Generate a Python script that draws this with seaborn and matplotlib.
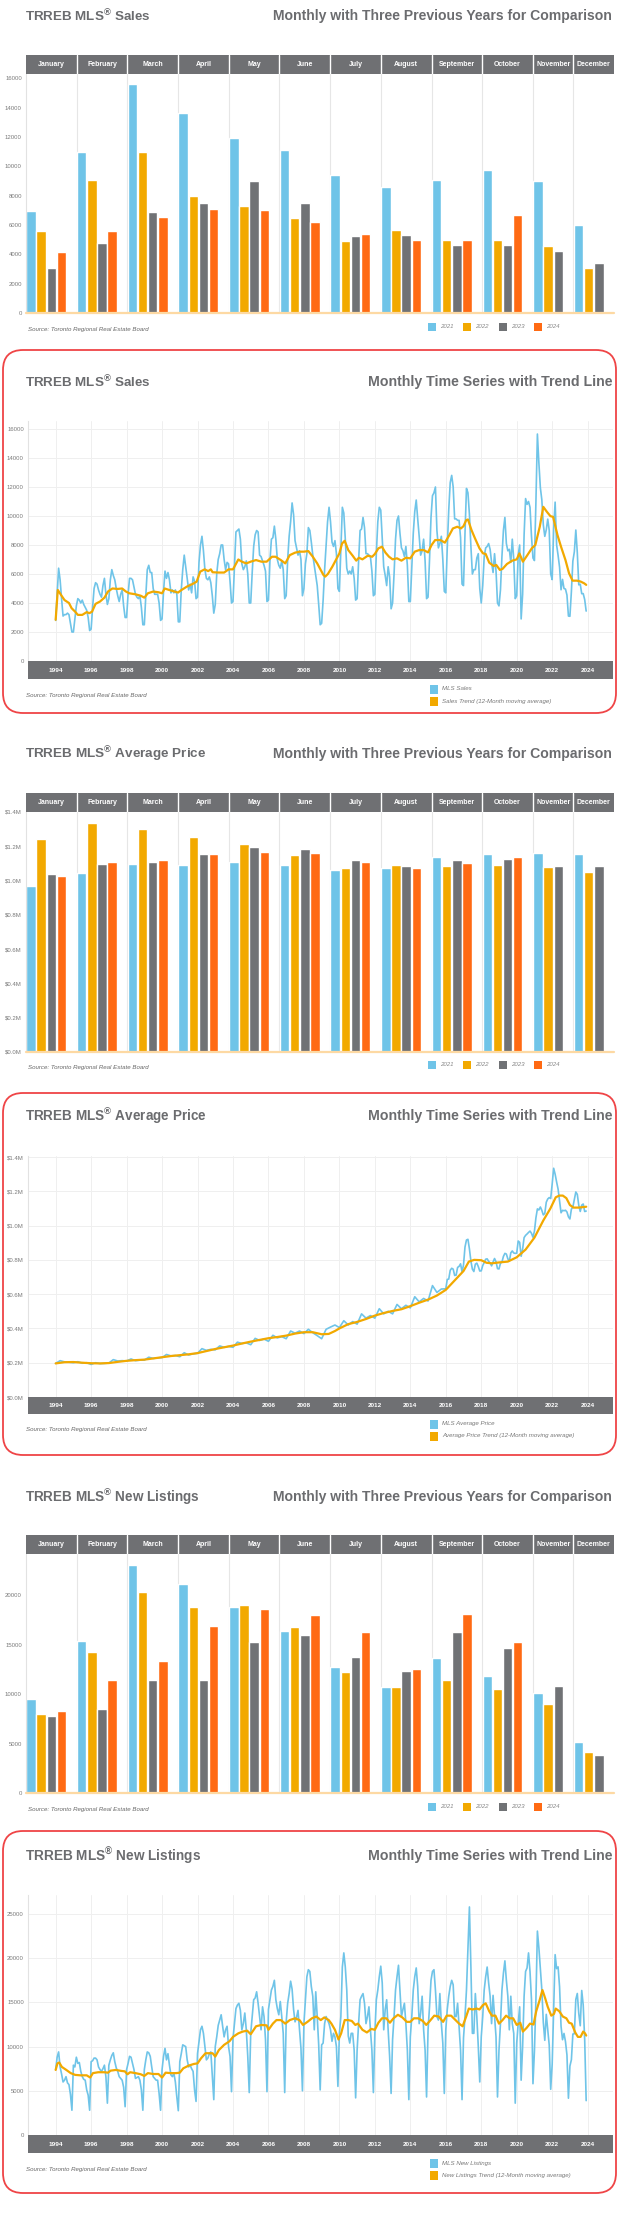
import numpy as np
import pandas as pd
import matplotlib
matplotlib.use("Agg")
import matplotlib.pyplot as plt
import seaborn as sns
from matplotlib.patches import FancyBboxPatch, Rectangle

sns.set_theme(style="white")
plt.rcParams["font.family"] = ["Liberation Sans", "DejaVu Sans"]

# ---------------------------------------------------------------- data
months = ["January", "February", "March", "April", "May", "June", "July",
          "August", "September", "October", "November", "December"]
years_cmp = ["2021", "2022", "2023", "2024"]

sales_2021 = [6928, 10970, 15652, 13663, 11951, 11112, 9390, 8596, 9046, 9783, 9011, 6003]
sales_2022 = [5614, 9097, 10955, 8008, 7283, 6474, 4912, 5627, 4998, 4961, 4544, 3100]
sales_2023 = [3083, 4783, 6896, 7531, 9031, 7481, 5250, 5294, 4642, 4646, 4236, 3444]
sales_2024 = [4191, 5607, 6560, 7114, 7013, 6213, 5391, 4975, 4996, 6658]

price_2021 = [967885, 1045488, 1097565, 1090992, 1108453, 1088991, 1062256, 1070911, 1136280, 1155345, 1163323, 1157837]
price_2022 = [1242793, 1334544, 1299894, 1254436, 1212806, 1146254, 1074754, 1089000, 1086762, 1089428, 1079395, 1051216]
price_2023 = [1038668, 1095617, 1108606, 1153269, 1196101, 1182120, 1118374, 1082496, 1119428, 1125928, 1082179, 1084692]
price_2024 = [1026703, 1108720, 1121615, 1156167, 1165691, 1162167, 1106617, 1074425, 1104704, 1135215]

listings_2021 = [9517, 15342, 23067, 21182, 18851, 16448, 12740, 10711, 13651, 11889, 10171, 5170]
listings_2022 = [8000, 14320, 20400, 18820, 19020, 16760, 12300, 10780, 11490, 10570, 9050, 4160]
listings_2023 = [7800, 8510, 11420, 11450, 15340, 16010, 13750, 12360, 16350, 14700, 10810, 3890]
listings_2024 = [8340, 11420, 13380, 16960, 18610, 18000, 16320, 12570, 18140, 15340]

# monthly MLS sales Jan 1994 - Dec 2020 (2021-2023 from the arrays above)
sales_monthly_1994_2020 = [
    2800, 4600, 6400, 5600, 4300, 3100, 3200, 3200, 3300, 3200, 2600, 2000,
    2000, 2900, 3800, 4300, 4200, 4000, 4200, 3900, 3700, 3500, 3000, 2100,
    2200, 3700, 5000, 5400, 5300, 4900, 4600, 4400, 5200, 5700, 4600, 3900,
    4300, 5600, 6300, 5900, 5600, 5000, 4500, 4100, 4600, 4900, 3800, 3000,
    3000, 4600, 5700, 5700, 5600, 5100, 4600, 4400, 4300, 4500, 3700, 2500,
    2500, 4500, 6300, 6600, 6100, 6100, 5000, 4600, 4600, 4600, 4000, 2800,
    2900, 4800, 6200, 5700, 6100, 5600, 4700, 4900, 4700, 4900, 4600, 2700,
    2700, 4900, 6300, 7300, 6500, 5700, 4900, 5300, 4700, 5800, 5500, 4300,
    4400, 6800, 8000, 8600, 7600, 6300, 5700, 5600, 5800, 5400, 4500, 3300,
    3900, 6000, 7000, 7400, 8000, 8000, 7000, 6300, 6800, 6700, 5500, 4000,
    4100, 6500, 8900, 9000, 9100, 8400, 6700, 6300, 6500, 6900, 6000, 4000,
    4000, 6100, 7900, 8700, 9000, 8900, 7300, 7200, 6900, 6600, 6200, 4100,
    4200, 6900, 8400, 8500, 9300, 8400, 7000, 6600, 6400, 6900, 6300, 4300,
    4500, 7000, 8600, 9600, 10900, 10100, 8300, 7800, 7300, 7600, 7000, 4500,
    5000, 6700, 7400, 9200, 9000, 8200, 7300, 6600, 5900, 5200, 3900, 2500,
    2600, 4200, 6300, 8000, 9600, 10600, 9600, 8200, 7900, 8300, 7400, 5000,
    4800, 7800, 10600, 10200, 8400, 6400, 6000, 6200, 6000, 6500, 5700, 4200,
    4300, 6900, 9000, 9100, 9900, 9200, 7400, 7400, 7300, 7200, 6200, 4500,
    4600, 7400, 9600, 10600, 10400, 8400, 6500, 5900, 5200, 6500, 5800, 3600,
    4000, 6000, 8400, 9700, 10000, 8800, 7800, 7600, 7200, 7900, 6600, 4100,
    4100, 6500, 8800, 10300, 11100, 9800, 8600, 7300, 7600, 8400, 6900, 4300,
    4400, 7000, 9900, 11400, 11600, 12000, 9000, 7800, 8100, 8600, 7000, 4800,
    4700, 7800, 10400, 12300, 12800, 12000, 9800, 9800, 9700, 9700, 8500, 5300,
    5200, 8800, 11900, 11600, 10100, 7900, 6000, 6300, 6300, 7100, 7400, 5000,
    4000, 5200, 7200, 7800, 7900, 8100, 7700, 6800, 6100, 7400, 6200, 4000,
    3800, 4900, 7200, 9000, 9900, 8100, 7600, 7700, 6800, 8400, 7000, 4300,
    4500, 7300, 8000, 2900, 4600, 8700, 11200, 10800, 11000, 10600, 8600, 7100,
]

sales_trend = [
    (1994.0, 2840), (1994.12, 4900), (1994.3, 4560), (1994.5, 4200), (1994.75, 4000), (1994.9, 3640),
    (1995.1, 3400), (1995.25, 3180), (1995.5, 3180), (1995.75, 3370), (1995.9, 3300), (1996.05, 3400),
    (1996.25, 3940), (1996.5, 4100), (1996.75, 4370), (1996.95, 4790), (1997.2, 5000), (1997.5, 4970),
    (1997.75, 5000), (1997.95, 4800), (1998.15, 4670), (1998.5, 4600), (1998.8, 4500), (1999.0, 4370),
    (1999.2, 4670), (1999.5, 4790), (1999.8, 4740), (2000.0, 4670), (2000.15, 5000), (2000.4, 4900),
    (2000.7, 4790), (2000.9, 4720), (2001.1, 4900), (2001.4, 5130), (2001.7, 5300), (2001.95, 5470),
    (2002.15, 6160), (2002.4, 6320), (2002.6, 6200), (2002.75, 6320), (2002.85, 6120), (2003.2, 6100),
    (2003.5, 6100), (2003.75, 6320), (2004.0, 6320), (2004.3, 7000), (2004.5, 6850), (2004.75, 6730),
    (2005.0, 6850), (2005.3, 6960), (2005.6, 6850), (2005.9, 6850), (2006.2, 7190), (2006.4, 7190),
    (2006.7, 6960), (2006.95, 6730), (2007.2, 7300), (2007.5, 7470), (2007.75, 7540), (2008.0, 7540),
    (2008.25, 7580), (2008.5, 7190), (2008.75, 6730), (2009.1, 5930), (2009.2, 5820), (2009.35, 6000),
    (2009.6, 6500), (2009.85, 7080), (2010.0, 7420), (2010.15, 8100), (2010.3, 8290), (2010.5, 7650),
    (2010.75, 7260), (2010.95, 6920), (2011.1, 7120), (2011.3, 7010), (2011.6, 7260), (2011.85, 7190),
    (2012.0, 7380), (2012.2, 7770), (2012.4, 7880), (2012.6, 7470), (2012.8, 7190), (2013.0, 7010),
    (2013.25, 7080), (2013.5, 6920), (2013.75, 7120), (2014.0, 7080), (2014.25, 7540), (2014.5, 7650),
    (2014.75, 7650), (2015.0, 7490), (2015.2, 8000), (2015.4, 8340), (2015.7, 8340), (2015.95, 8160),
    (2016.2, 8680), (2016.4, 9140), (2016.65, 9260), (2016.85, 9140), (2017.0, 9300), (2017.15, 9710),
    (2017.25, 9760), (2017.45, 9030), (2017.65, 8450), (2017.9, 7770), (2018.1, 7420), (2018.25, 7380),
    (2018.45, 6780), (2018.7, 6550), (2018.85, 6620), (2019.05, 6280), (2019.2, 6350), (2019.45, 6690),
    (2019.75, 6920), (2020.0, 7010), (2020.15, 7420), (2020.35, 6850), (2020.6, 7300), (2020.85, 7770),
    (2021.05, 8000), (2021.3, 9260), (2021.5, 10630), (2021.7, 10290), (2021.9, 9990), (2022.05, 9940),
    (2022.3, 8680), (2022.5, 7880), (2022.75, 6960), (2022.95, 6050), (2023.15, 5540), (2023.4, 5540),
    (2023.6, 5480), (2023.8, 5360), (2023.92, 5250),
]

# average price: quarterly (Jan, Apr, Jul, Oct) 1994-2015
price_quarterly_1994_2015 = [
    196000, 212000, 205000, 203000,
    200000, 206000, 197000, 200000,
    190000, 200000, 195000, 196000,
    198000, 218000, 210000, 212000,
    210000, 222000, 212000, 215000,
    215000, 232000, 225000, 228000,
    230000, 248000, 240000, 242000,
    235000, 258000, 245000, 252000,
    255000, 282000, 272000, 278000,
    275000, 298000, 290000, 295000,
    290000, 320000, 312000, 316000,
    305000, 342000, 330000, 338000,
    325000, 360000, 345000, 352000,
    340000, 385000, 372000, 385000,
    370000, 395000, 375000, 358000,
    340000, 395000, 408000, 420000,
    405000, 445000, 420000, 440000,
    425000, 485000, 460000, 475000,
    460000, 515000, 485000, 500000,
    485000, 540000, 515000, 535000,
    520000, 585000, 555000, 575000,
    560000, 650000, 610000, 630000,
]
# average price: monthly 2016-2020
price_monthly_2016_2020 = [
    631000, 686000, 688000, 739000, 751000, 746000, 709000, 711000, 756000, 762000, 777000, 730000,
    771000, 875000, 916000, 920000, 864000, 793000, 746000, 732000, 775000, 781000, 761000, 735000,
    736000, 767000, 784000, 804000, 806000, 792000, 782000, 765000, 788000, 808000, 789000, 749000,
    747000, 780000, 787000, 820000, 838000, 834000, 806000, 792000, 841000, 852000, 840000, 838000,
    839000, 910000, 902000, 821000, 863000, 930000, 943000, 951000, 960000, 968000, 955000, 932000,
]

price_trend = [
    (1994.0, 196000), (1994.5, 203000), (1995.0, 204000), (1995.5, 200000), (1996.0, 197000),
    (1996.5, 196000), (1997.0, 198000), (1997.5, 205000), (1998.0, 211000), (1998.5, 215000),
    (1999.0, 218000), (1999.5, 225000), (2000.0, 232000), (2000.5, 239000), (2001.0, 244000),
    (2001.5, 249000), (2002.0, 256000), (2002.5, 268000), (2003.0, 280000), (2003.5, 290000),
    (2004.0, 300000), (2004.5, 312000), (2005.0, 323000), (2005.5, 333000), (2006.0, 343000),
    (2006.5, 350000), (2007.0, 358000), (2007.5, 370000), (2008.0, 378000), (2008.5, 378000),
    (2009.0, 366000), (2009.4, 368000), (2009.75, 385000), (2010.0, 400000), (2010.5, 425000),
    (2011.0, 438000), (2011.5, 455000), (2012.0, 475000), (2012.5, 490000), (2013.0, 502000),
    (2013.5, 512000), (2014.0, 530000), (2014.5, 550000), (2015.0, 568000), (2015.5, 592000),
    (2016.0, 625000), (2016.5, 680000), (2017.0, 735000), (2017.3, 790000), (2017.6, 800000),
    (2018.0, 798000), (2018.3, 783000), (2018.6, 780000), (2019.0, 785000), (2019.5, 790000),
    (2020.0, 815000), (2020.5, 860000), (2021.0, 930000), (2021.5, 1030000), (2021.9, 1100000),
    (2022.2, 1165000), (2022.4, 1175000), (2022.6, 1175000), (2022.8, 1160000), (2023.0, 1120000),
    (2023.2, 1105000), (2023.5, 1105000), (2023.92, 1110000),
]

listings_monthly_1994_2020 = [
    7400, 8800, 9400, 7700, 6900, 6000, 6200, 6600, 5900, 5700, 4600, 2800,
    7900, 7700, 8800, 8100, 8200, 7200, 6600, 6300, 6200, 5100, 4500, 2800,
    8300, 8400, 8700, 8700, 8500, 7700, 7400, 7200, 7500, 7900, 6600, 3600,
    7900, 8500, 9000, 9300, 8300, 7600, 7200, 6600, 6400, 6200, 5400, 3200,
    7400, 8100, 8900, 8800, 8100, 7400, 6400, 6500, 6600, 6200, 5100, 2800,
    7400, 8500, 9400, 9300, 8900, 7700, 6600, 6400, 6200, 6200, 4700, 2800,
    7400, 8900, 9800, 8500, 9200, 7900, 6800, 6600, 7000, 6000, 4300, 2750,
    8300, 9200, 10200, 10100, 10000, 8500, 7700, 7900, 7500, 7200, 5100, 3800,
    9200, 10600, 11900, 12300, 11500, 10000, 8500, 8700, 9200, 9400, 6600, 4000,
    10000, 11100, 12400, 13000, 13600, 12300, 11100, 11900, 12300, 10000, 8900, 4900,
    10900, 12600, 14300, 14700, 14900, 14100, 11900, 12600, 13800, 11900, 8900, 4800,
    11500, 13400, 15300, 15500, 16200, 14900, 13400, 11900, 14500, 13400, 10800, 4900,
    14200, 15300, 16400, 16800, 17500, 15300, 14300, 13600, 15100, 13400, 11500, 4800,
    12800, 14900, 16000, 17400, 16500, 14200, 12800, 13300, 14100, 12000, 9800, 5000,
    12600, 15300, 17900, 18700, 18500, 16800, 15700, 11900, 16200, 13400, 10200, 5100,
    10200, 10400, 12600, 13400, 13000, 12600, 11900, 10600, 11500, 11100, 10000, 5500,
    11500, 13400, 19000, 20600, 19000, 16400, 11200, 10400, 11500, 11500, 9600, 4200,
    9600, 12600, 15300, 15700, 16000, 14900, 12600, 13400, 14500, 11900, 9600, 4800,
    11500, 15300, 16400, 17900, 19100, 17200, 11900, 14200, 15300, 11900, 8900, 4700,
    10800, 13400, 16400, 17900, 19200, 16400, 13400, 14200, 14900, 12600, 9600, 4000,
    11100, 13400, 16400, 17900, 18900, 16800, 12600, 13800, 15700, 11900, 9600, 4300,
    11900, 14500, 17500, 18500, 18700, 16400, 13400, 13000, 16000, 12600, 10400, 4700,
    11900, 14200, 15700, 16800, 17500, 17000, 13400, 13400, 14900, 12300, 9600, 4000,
    11000, 13400, 16400, 21000, 25800, 19000, 11500, 11500, 16000, 13400, 10000, 6000,
    11100, 13400, 16400, 17900, 19000, 17200, 15700, 12600, 15800, 13400, 11100, 4300,
    9600, 12600, 16400, 18300, 19700, 17500, 15700, 11900, 15700, 12600, 11500, 3600,
    10400, 12600, 14500, 6200, 10000, 15700, 18500, 18900, 20600, 18500, 15300, 5800,
]

listings_trend = [
    (1994.0, 7360), (1994.1, 8100), (1994.2, 8200), (1994.35, 7700), (1994.6, 7360), (1994.85, 7000),
    (1995.1, 6800), (1995.4, 6750), (1995.75, 6750), (1995.95, 6500), (1996.1, 7000), (1996.4, 7100),
    (1996.75, 7100), (1996.95, 7050), (1997.1, 7280), (1997.4, 7360), (1997.7, 7250), (1997.9, 7200),
    (1998.05, 6870), (1998.2, 7100), (1998.5, 7000), (1998.8, 6870), (1999.0, 6680), (1999.2, 7000),
    (1999.5, 6900), (1999.8, 6900), (2000.0, 6500), (2000.2, 7050), (2000.5, 7000), (2000.8, 7000),
    (2001.0, 7050), (2001.2, 7550), (2001.5, 7850), (2001.8, 8040), (2002.0, 8100), (2002.2, 8680),
    (2002.45, 9250), (2002.65, 9250), (2002.85, 9250), (2003.0, 8870), (2003.2, 9600), (2003.5, 10200),
    (2003.8, 10600), (2004.0, 11100), (2004.3, 11500), (2004.55, 11700), (2004.8, 11800), (2005.0, 11400),
    (2005.3, 12300), (2005.6, 12450), (2005.9, 12400), (2006.0, 11900), (2006.25, 12600), (2006.45, 13000),
    (2006.7, 13000), (2006.95, 12600), (2007.2, 13000), (2007.5, 13200), (2007.75, 13000), (2007.95, 12450),
    (2008.2, 12800), (2008.45, 13200), (2008.7, 13400), (2008.95, 13000), (2009.15, 13300), (2009.4, 13000),
    (2009.55, 12600), (2009.75, 11900), (2009.95, 10800), (2010.1, 11500), (2010.3, 13000), (2010.5, 13000),
    (2010.7, 12900), (2010.9, 12450), (2011.05, 12600), (2011.3, 11900), (2011.55, 11600), (2011.8, 12000),
    (2012.0, 11900), (2012.2, 12700), (2012.4, 13200), (2012.65, 13200), (2012.85, 12700), (2013.05, 13200),
    (2013.3, 13600), (2013.55, 13300), (2013.8, 12800), (2014.0, 12800), (2014.2, 13200), (2014.45, 13200),
    (2014.7, 12900), (2014.9, 12450), (2015.1, 12900), (2015.35, 13500), (2015.6, 13400), (2015.85, 12800),
    (2016.05, 13500), (2016.3, 13500), (2016.5, 13100), (2016.75, 12600), (2016.95, 12300), (2017.15, 13400),
    (2017.3, 14300), (2017.5, 14200), (2017.75, 14300), (2017.9, 14200), (2018.1, 14700), (2018.25, 14900),
    (2018.45, 14000), (2018.6, 13500), (2018.8, 13500), (2019.0, 12600), (2019.2, 13000), (2019.4, 13500),
    (2019.6, 13200), (2019.8, 13200), (2020.0, 12450), (2020.2, 12700), (2020.35, 11700), (2020.55, 12100),
    (2020.75, 12600), (2020.95, 12500), (2021.1, 14000), (2021.3, 15300), (2021.45, 16400), (2021.6, 15500),
    (2021.75, 14500), (2021.95, 13500), (2022.1, 13700), (2022.2, 14300), (2022.4, 14000), (2022.6, 13400),
    (2022.8, 13200), (2022.95, 12700), (2023.1, 12600), (2023.3, 11600), (2023.45, 11100), (2023.6, 11100),
    (2023.75, 11700), (2023.85, 11500), (2023.92, 11250),
]

sales_ticks = [0, 2000, 4000, 6000, 8000, 10000, 12000, 14000, 16000]
price_ticks = [0, 200000, 400000, 600000, 800000, 1000000, 1200000, 1400000]
price_tick_labels = ["$0.0M", "$0.2M", "$0.4M", "$0.6M", "$0.8M", "$1.0M", "$1.2M", "$1.4M"]
listings_bar_ticks = [0, 5000, 10000, 15000, 20000]
listings_ts_ticks = [0, 5000, 10000, 15000, 20000, 25000]
year_labels = list(range(1994, 2025, 2))

# ---------------------------------------------------------------- style
W, H, DPI = 621, 2219, 100
BLUE = "#6fc4e8"
GOLD = "#f2a900"
GRAY = "#707275"
ORANGE = "#ff6a13"
BAND = "#6f7073"
TITLE_C = "#6b6c6f"
TXT = "#7a7a7a"
RED = "#ef4446"
pal = {"2021": BLUE, "2022": GOLD, "2023": GRAY, "2024": ORANGE}

fig = plt.figure(figsize=(W / DPI, H / DPI), dpi=DPI)
fig.patch.set_facecolor("white")
renderer = fig.canvas.get_renderer()


def axes_px(x0, y0, x1, y1):
    return fig.add_axes([x0 / W, 1 - y1 / H, (x1 - x0) / W, (y1 - y0) / H])


def ftext(x, y, s, **kw):
    return fig.text(x / DPI, (H - y) / DPI, s, transform=fig.dpi_scale_trans, **kw)


def fit(t, width):
    bb = t.get_window_extent(renderer=renderer)
    t.set_fontsize(t.get_fontsize() * width / bb.width)


def rect_px(x, y, w, h, color):
    fig.add_artist(Rectangle((x / DPI, (H - y - h) / DPI), w / DPI, h / DPI,
                             transform=fig.dpi_scale_trans, color=color, lw=0))


def titles(y, left, right, lx1, rx0):
    t1 = ftext(25, y, left, ha="left", va="center", fontsize=10, fontweight="bold", color=TITLE_C)
    fit(t1, lx1 - 25)
    t2 = ftext(612, y, right, ha="right", va="center", fontsize=10, fontweight="bold", color=TITLE_C)
    fit(t2, 612 - rx0)


def source(x, y):
    ftext(x, y, "Source: Toronto Regional Real Estate Board", ha="left", va="center",
          fontsize=4.4, style="italic", color="#666666")


def style_yaxis(ax, ticks, labels):
    ax.set_yticks(ticks)
    ax.set_yticklabels(labels)
    ax.tick_params(axis="y", length=0, pad=3, labelsize=4.3, labelcolor=TXT)
    ax.set_xlabel("")
    ax.set_ylabel("")
    for k, s in ax.spines.items():
        s.set_visible(k == "left")
    ax.spines["left"].set_color("#e2e2e2")
    ax.spines["left"].set_linewidth(0.8)


def bar_panel(y_title, y_hdr0, y_hdr1, y_base, y_src, series, ytop, ticks, labels, title, lx1):
    titles(y_title, title, "Monthly with Three Previous Years for Comparison", lx1, 271)
    rows, bounds, centers = [], [0], []
    slot = 0
    for mi in range(12):
        start = slot
        for yr in years_cmp:
            vals = series[yr]
            if mi < len(vals):
                rows.append({"pos": slot + 0.5, "value": vals[mi], "year": yr})
                slot += 1
        slot += 1
        bounds.append(slot)
        centers.append((start + slot) / 2)
    total = slot
    df = pd.DataFrame(rows)
    ax = axes_px(26, y_hdr1, 614, y_base)
    sns.barplot(data=df, x="pos", y="value", hue="year", hue_order=years_cmp, palette=pal,
                native_scale=True, dodge=False, width=0.93, saturation=1, errorbar=None,
                legend=False, ax=ax, zorder=2)
    ax.set_xlim(0, total)
    ax.set_ylim(0, ytop)
    for b in bounds[1:-1]:
        ax.axvline(b, color="#e6e6e6", lw=0.8, zorder=0)
    ax.axhline(0, color="#fdd9a3", lw=1.6, zorder=3, clip_on=False)
    ax.set_xticks([])
    style_yaxis(ax, ticks, labels)

    hb = axes_px(26, y_hdr0, 614, y_hdr1)
    hb.set_facecolor(BAND)
    hb.set_xlim(0, total)
    hb.set_ylim(0, 1)
    hb.set_xticks([])
    hb.set_yticks([])
    for s in hb.spines.values():
        s.set_visible(False)
    for b in bounds[1:-1]:
        hb.axvline(b, color="white", lw=1.0)
    for c, m in zip(centers, months):
        hb.text(c, 0.5, m, ha="center", va="center", color="white", fontsize=5, fontweight="bold")

    source(28, y_src)
    for i, yr in enumerate(years_cmp):
        x = 428 + i * 35.3
        rect_px(x, y_src - 6, 8, 8, pal[yr])
        ftext(x + 12, y_src - 2, yr, ha="left", va="center", fontsize=4.4, style="italic", color="#888888")


XL0, XL1 = 1992.44, 2025.43


def ts_panel(box_top, box_bot, y_title, plot_top, y_zero, band_bot, leg_y1, leg_y2, src_y,
             title, t, v, trend, ytop, ticks, labels, lab1, lab2, lx1):
    fig.add_artist(FancyBboxPatch((3 / DPI, (H - box_bot) / DPI), (616 - 3) / DPI,
                                  (box_bot - box_top) / DPI,
                                  boxstyle="round,pad=0,rounding_size=0.2",
                                  transform=fig.dpi_scale_trans, fill=False, ec=RED, lw=1.3))
    titles(y_title, title, "Monthly Time Series with Trend Line", lx1, 368)
    ax = axes_px(28, plot_top, 613, y_zero)
    tt = np.array([p[0] for p in trend])
    tv = np.array([p[1] for p in trend])
    sns.lineplot(x=t, y=v, ax=ax, color=BLUE, linewidth=1.2, estimator=None, sort=False)
    sns.lineplot(x=tt, y=tv, ax=ax, color=GOLD, linewidth=1.6, estimator=None, sort=False)
    ax.set_xlim(XL0, XL1)
    ax.set_ylim(0, ytop)
    ax.set_xticks(year_labels)
    ax.set_xticklabels([])
    ax.set_xticks(np.arange(1993, 2026), minor=True)
    ax.tick_params(axis="x", which="both", length=2, color="#666666", direction="out")
    ax.grid(True, which="major", color="#efefef", lw=0.7)
    ax.set_axisbelow(True)
    style_yaxis(ax, ticks, labels)

    band = axes_px(28, y_zero, 613, band_bot)
    band.set_facecolor(BAND)
    band.set_xlim(XL0, XL1)
    band.set_ylim(0, 1)
    band.set_xticks([])
    band.set_yticks([])
    for s in band.spines.values():
        s.set_visible(False)
    for yr in year_labels:
        band.text(yr, 0.5, str(yr), ha="center", va="center", color="white",
                  fontsize=4.6, fontweight="bold")

    source(26, src_y)
    rect_px(430, leg_y1 - 4.5, 8, 9, BLUE)
    rect_px(430, leg_y2 - 4.5, 8, 9, GOLD)
    ftext(442, leg_y1, lab1, ha="left", va="center", fontsize=4.4, style="italic", color="#777777")
    ftext(442, leg_y2, lab2, ha="left", va="center", fontsize=4.4, style="italic", color="#777777")


REG = r"$^{\mathregular{®}}$"

# ---------------------------------------------------------------- Sales
bar_panel(16, 55, 74, 313, 329,
          {"2021": sales_2021, "2022": sales_2022, "2023": sales_2023, "2024": sales_2024},
          16300, sales_ticks, [str(x) for x in sales_ticks], "TRREB MLS" + REG + " Sales", 151)

months_t = 1994 + np.arange(360) / 12
sales_all = np.array(sales_monthly_1994_2020 + sales_2021 + sales_2022 + sales_2023)
ts_panel(350, 713, 382, 421, 661, 679, 689, 701, 695, "TRREB MLS" + REG + " Sales",
         months_t, sales_all, sales_trend, 16550, sales_ticks, [str(x) for x in sales_ticks],
         "MLS Sales", "Sales Trend (12-Month moving average)", 150)

# ---------------------------------------------------------------- Average price
bar_panel(754, 793, 812, 1052, 1067,
          {"2021": price_2021, "2022": price_2022, "2023": price_2023, "2024": price_2024},
          1400000, price_ticks, price_tick_labels, "TRREB MLS" + REG + " Average Price", 206)

pq = np.array(price_quarterly_1994_2015)
pq_t = np.array([y + m / 12 for y in range(1994, 2016) for m in (0, 3, 6, 9)])
pm = np.array(price_monthly_2016_2020 + price_2021 + price_2022 + price_2023)
pm_t = 2016 + np.arange(len(pm)) / 12
ts_panel(1093, 1455, 1116, 1156, 1397, 1414, 1424, 1436, 1430, "TRREB MLS" + REG + " Average Price",
         np.concatenate([pq_t, pm_t]), np.concatenate([pq, pm]), price_trend, 1406000,
         price_ticks, price_tick_labels, "MLS Average Price",
         "Average Price Trend (12-Month moving average)", 207)

# ---------------------------------------------------------------- New listings
bar_panel(1497, 1535, 1554, 1793, 1809,
          {"2021": listings_2021, "2022": listings_2022, "2023": listings_2023, "2024": listings_2024},
          24200, listings_bar_ticks, [str(x) for x in listings_bar_ticks],
          "TRREB MLS" + REG + " New Listings", 200)

listings_all = np.array(listings_monthly_1994_2020 + listings_2021 + listings_2022 + listings_2023)
ts_panel(1831, 2193, 1856, 1895, 2135, 2153, 2163, 2175, 2169, "TRREB MLS" + REG + " New Listings",
         months_t, listings_all, listings_trend, 27150, listings_ts_ticks,
         [str(x) for x in listings_ts_ticks], "MLS New Listings",
         "New Listings Trend (12-Month moving average)", 201)

fig.savefig("out.png", dpi=DPI, facecolor="white")
